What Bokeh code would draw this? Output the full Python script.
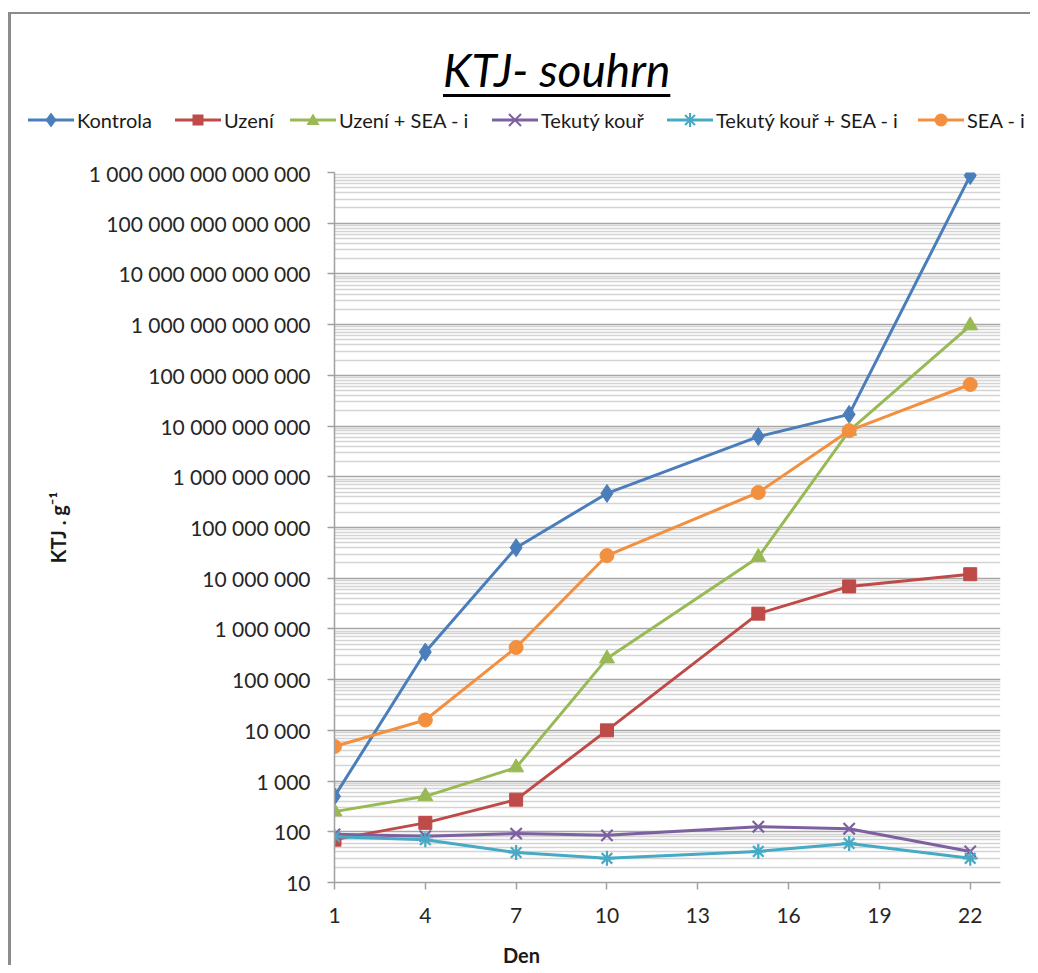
from bokeh.plotting import figure
from bokeh.layouts import column
from bokeh.models import FixedTicker, Range1d, Div, CustomJSTickFormatter
from bokeh.embed import file_html
from bokeh.resources import INLINE

# ---- data ----
days = [1, 4, 7, 10, 15, 18, 22]
kontrola = [500, 3.5e5, 4.0e7, 4.7e8, 6.2e9, 1.7e10, 8.7e14]
uzeni = [70, 150, 430, 1.0e4, 2.0e6, 6.9e6, 1.2e7]
uzeni_sea = [250, 500, 1850, 2.6e5, 2.6e7, 8.0e9, 9.6e11]
tekuty = [89, 82, 92, 85, 126, 115, 41]
tekuty_sea = [80, 70, 39, 30, 41, 59, 30]
sea = [4800, 16000, 4.3e5, 2.8e7, 4.9e8, 8.1e9, 6.6e10]

series_names = ["Kontrola", "Uzení", "Uzení + SEA - i", "Tekutý kouř",
                "Tekutý kouř + SEA - i", "SEA - i"]
series_values = [kontrola, uzeni, uzeni_sea, tekuty, tekuty_sea, sea]

x_ticks = [1, 4, 7, 10, 13, 16, 19, 22]
y_tick_values = [10 ** k for k in range(1, 16)]
y_tick_labels = ["{:,}".format(v).replace(",", " ") for v in y_tick_values]
y_minor_values = [m * 10 ** k for k in range(1, 15) for m in range(2, 10)]

title_text = "KTJ- souhrn"
x_label = "Den"
y_label = "KTJ . g\u207b\u00b9"

# ---- styles ----
colors = ["#4A7EBB", "#BE4B48", "#98B954", "#7D60A0", "#46AAC5", "#F39040"]
markers = ["diamond", "square", "triangle", "x", "asterisk", "circle"]
msizes = [18, 13, 15, 16, 15, 14]
legend_left = [28, 175, 290, 492, 667, 918]   # legend item positions (px)
FONT = "Lato"
W = 1030
HEAD_H = 160
MAIN_H = 770
DEN_H = 35


# ---------------- header: title + legend (HTML) ----------------
def legend_glyph(marker, c):
    parts = ['<line x1="0" y1="11" x2="46" y2="11" stroke="%s" stroke-width="3"/>' % c]
    if marker == "diamond":
        parts.append('<polygon points="23,3.5 28.5,11 23,18.5 17.5,11" fill="%s"/>' % c)
    elif marker == "square":
        parts.append('<rect x="17.5" y="5.5" width="11" height="11" fill="%s"/>' % c)
    elif marker == "triangle":
        parts.append('<polygon points="23,4.5 29.5,16 16.5,16" fill="%s"/>' % c)
    elif marker == "x":
        parts.append('<path d="M17,5 L29,17 M29,5 L17,17" stroke="%s" stroke-width="2"/>' % c)
    elif marker == "asterisk":
        parts.append('<path d="M18,6 L28,16 M28,6 L18,16 M23,4 L23,18" stroke="%s" '
                     'stroke-width="2"/>' % c)
    elif marker == "circle":
        parts.append('<circle cx="23" cy="11" r="6.5" fill="%s"/>' % c)
    return '<svg width="46" height="22" style="display:block">' + "".join(parts) + '</svg>'


legend_html = ""
for name, c, m, lx in zip(series_names, colors, markers, legend_left):
    legend_html += (
        '<div style="position:absolute; left:%dpx; top:109px; height:22px; '
        'display:flex; align-items:center; white-space:nowrap;">' % lx
        + legend_glyph(m, c)
        + '<span style="margin-left:3px; font-family:Lato; font-size:20px; '
          'line-height:22px; color:#1a1a1a;">' + name + '</span></div>')

head_div = Div(
    width=W, height=HEAD_H,
    text=('<div style="position:relative; width:%dpx; height:%dpx;">' % (W, HEAD_H)
          + '<div style="position:absolute; left:443px; top:47px; white-space:nowrap; '
            'font-family:Lato; font-style:italic; font-size:46px; line-height:46px; '
            'color:#000; text-decoration:underline; text-decoration-thickness:3px; '
            'text-underline-offset:7px;">' + title_text + '</div>'
          + legend_html + '</div>'),
    styles={"margin": "0", "padding": "0"})

# ---------------- main chart ----------------
p = figure(width=W, height=MAIN_H, y_axis_type="log",
           x_range=Range1d(1, 23), y_range=Range1d(10, 1e15),
           output_backend="svg", toolbar_location=None,
           min_border_left=334, min_border_right=30,
           min_border_top=12, min_border_bottom=48)
p.outline_line_color = None
p.background_fill_color = "white"
p.border_fill_alpha = 0

p.xaxis.ticker = FixedTicker(ticks=x_ticks)
p.yaxis.ticker = FixedTicker(ticks=y_tick_values, minor_ticks=y_minor_values)
p.yaxis.major_label_overrides = dict(zip(y_tick_values, y_tick_labels))
p.yaxis.formatter = CustomJSTickFormatter(code="""
    return Math.round(tick).toString().replace(/\\B(?=(\\d{3})+(?!\\d))/g, " ");
""")
for ax in (p.xaxis[0], p.yaxis[0]):
    ax.axis_line_color = "#a0a0a0"
    ax.axis_line_width = 1.5
    ax.major_tick_line_color = "#a0a0a0"
    ax.major_tick_line_width = 1.5
    ax.major_tick_out = 7
    ax.major_tick_in = 0
    ax.minor_tick_line_color = None
    ax.major_label_text_font = FONT
    ax.major_label_text_font_size = "21px"
    ax.major_label_text_color = "#262626"
p.yaxis.major_label_standoff = 17
p.xaxis.major_label_standoff = 18

p.yaxis.axis_label = y_label
p.yaxis.axis_label_text_font = FONT
p.yaxis.axis_label_text_font_style = "bold"
p.yaxis.axis_label_text_font_size = "20px"
p.yaxis.axis_label_text_color = "#1a1a1a"
p.yaxis.axis_label_standoff = 16

p.xgrid.grid_line_color = None
p.ygrid.grid_line_color = "#a6a6a6"
p.ygrid.grid_line_width = 1.3
p.ygrid.minor_grid_line_color = "#d4d4d4"
p.ygrid.minor_grid_line_width = 1.3

for name, vals, c, m, s in zip(series_names, series_values, colors, markers, msizes):
    p.line(days, vals, line_color=c, line_width=3)
    if m in ("x", "asterisk"):
        p.scatter(days, vals, marker=m, size=s, line_color=c, line_width=2.2)
    else:
        p.scatter(days, vals, marker=m, size=s, fill_color=c, line_color=c)

# ---------------- x axis title (HTML, centred under the whole chart) ----------------
den_div = Div(
    width=W, height=DEN_H,
    text=('<div style="position:relative; left:503px; top:14px; display:inline-block; '
          'font-family:Lato; font-weight:bold; font-size:20px; line-height:22px; '
          'color:#1a1a1a;">' + x_label + '</div>'),
    styles={"margin": "0", "padding": "0"})

layout = column(head_div, p, den_div, spacing=0,
                styles={"box-shadow": "inset 8px 12px 0 0 #ffffff, inset 11px 14px 0 0 #8c8c8c"})

open("out.html", "w").write(file_html(layout, INLINE))
